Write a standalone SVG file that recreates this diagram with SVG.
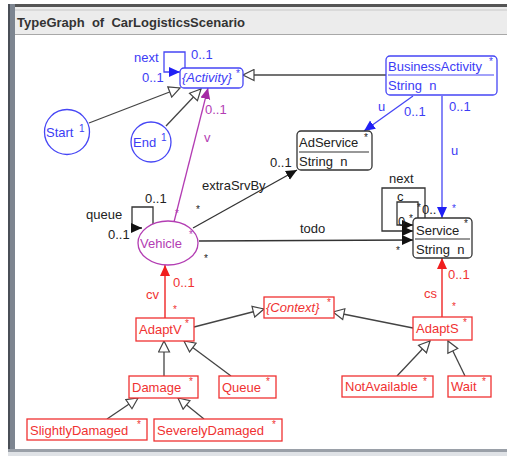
<svg xmlns="http://www.w3.org/2000/svg" width="507" height="456" viewBox="0 0 507 456">
  <style>
    text { font-family: "Liberation Sans", Arial, sans-serif; font-size: 13px; }
    .title { font-weight: bold; font-size: 13px; fill: #333; white-space: pre; }
    .blue { fill: #3c3cf5; }
    .red { fill: #f03232; }
    .pur { fill: #b33db3; }
    .blk { fill: #222; }
    .it { font-style: italic; }
    .sup { font-size: 10px; }
    .pre { white-space: pre; }
    .nb { fill: #fff; stroke: #4646f5; stroke-width: 1.3; }
    .nk { fill: #fff; stroke: #333; stroke-width: 1.3; }
    .nr { fill: #fff; stroke: #f03232; stroke-width: 1.3; }
    .np { fill: #fff; stroke: #b33db3; stroke-width: 1.3; }
    .gen { fill: none; stroke: #444; stroke-width: 1.3; marker-end: url(#inh); }
    .ek { fill: none; stroke: #333; stroke-width: 1.3; }
    .eb { fill: none; stroke: #4646f5; stroke-width: 1.3; }
    .ep { fill: none; stroke: #b33db3; stroke-width: 1.3; }
    .er { fill: none; stroke: #f03232; stroke-width: 1.5; }
  </style>
  <defs>
    <marker id="inh" markerWidth="13" markerHeight="13" refX="12" refY="6.5" orient="auto" markerUnits="userSpaceOnUse">
      <path d="M1,1 L12,6.5 L1,12 z" fill="#fff" stroke="#444" stroke-width="1.2"/>
    </marker>
    <marker id="ak" markerWidth="12" markerHeight="12" refX="11" refY="6" orient="auto" markerUnits="userSpaceOnUse">
      <path d="M0,1 L11,6 L0,11 z" fill="#111"/>
    </marker>
    <marker id="ab" markerWidth="12" markerHeight="12" refX="11" refY="6" orient="auto" markerUnits="userSpaceOnUse">
      <path d="M0,1 L11,6 L0,11 z" fill="#2020f5"/>
    </marker>
    <marker id="ap" markerWidth="12" markerHeight="12" refX="11" refY="6" orient="auto" markerUnits="userSpaceOnUse">
      <path d="M0,1 L11,6 L0,11 z" fill="#a52aa5"/>
    </marker>
    <marker id="ar" markerWidth="12" markerHeight="12" refX="11" refY="6" orient="auto" markerUnits="userSpaceOnUse">
      <path d="M0,1 L11,6 L0,11 z" fill="#f01e1e"/>
    </marker>
  </defs>

  <!-- window frame -->
  <rect x="0" y="0" width="507" height="456" fill="#fff"/>
  <rect x="8" y="4" width="499" height="3" fill="#555"/>
  <rect x="8" y="4" width="7" height="449" fill="#7d8590"/>
  <rect x="8" y="4" width="2" height="449" fill="#4a4f57"/>
  <rect x="15" y="7" width="492" height="27" fill="#ececec"/>
  <line x1="15" y1="10" x2="507" y2="10" stroke="#c8c8c8"/>
  <line x1="15" y1="34.5" x2="507" y2="34.5" stroke="#a8a8a8"/>
  <rect x="8" y="449" width="499" height="3" fill="#9aa0a8"/>
  <rect x="8" y="452" width="499" height="4" fill="#dfe2e6"/>
  <text class="title" x="17" y="27">TypeGraph  of  CarLogisticsScenario</text>

  <!-- connectors -->
  <g id="connectors">
    <!-- generalisations -->
    <line class="gen" x1="89" y1="123" x2="180" y2="88"/>
    <line class="gen" x1="166" y1="126" x2="201" y2="89"/>
    <line class="gen" x1="386" y1="75" x2="243" y2="75"/>
    <line class="gen" x1="194" y1="327" x2="264" y2="309"/>
    <line class="gen" x1="413" y1="328" x2="333" y2="312"/>
    <line class="gen" x1="164" y1="376" x2="164" y2="341"/>
    <line class="gen" x1="231" y1="376" x2="184" y2="341"/>
    <line class="gen" x1="107" y1="419" x2="138" y2="398"/>
    <line class="gen" x1="204" y1="419" x2="178" y2="398"/>
    <line class="gen" x1="397" y1="376" x2="430" y2="341"/>
    <line class="gen" x1="465" y1="376" x2="448" y2="341"/>

    <!-- Activity next -->
    <path class="eb" d="M185,68 V52 H164 V72 H180" marker-end="url(#ab)"/>
    <text class="blue" x="134" y="62">next</text>
    <text class="blue" x="191" y="59">0..1</text>
    <text class="blue" x="142" y="82">0..1</text>

    <!-- BusinessActivity u -> AdService -->
    <line class="eb" x1="413" y1="96" x2="364" y2="131" marker-end="url(#ab)"/>
    <text class="blue" x="378" y="111">u</text>
    <text class="blue" x="404" y="116">0..1</text>

    <!-- BusinessActivity u -> Service -->
    <line class="eb" x1="442" y1="96" x2="442" y2="218" marker-end="url(#ab)"/>
    <text class="blue" x="449" y="111">0..1</text>
    <text class="blue" x="451" y="155">u</text>
    <text class="blue sup" x="452" y="212">*</text>

    <!-- Vehicle v -> Activity -->
    <line class="ep" x1="174" y1="222" x2="208" y2="88" marker-end="url(#ap)"/>
    <text class="pur" x="205" y="114">0..1</text>
    <text class="pur" x="204" y="142">v</text>
    <text class="pur sup" x="175" y="217">*</text>

    <!-- Vehicle queue -->
    <path class="ek" d="M153,224 V207 H132 V228 H142" marker-end="url(#ak)"/>
    <text class="blk" x="86" y="219">queue</text>
    <text class="blk" x="145" y="203">0..1</text>
    <text class="blk" x="108" y="239">0..1</text>

    <!-- Vehicle extraSrvBy -> AdService -->
    <line class="ek" x1="193" y1="228" x2="297" y2="170" marker-end="url(#ak)"/>
    <text class="blk" x="202" y="190">extraSrvBy</text>
    <text class="blk" x="270" y="167">0..1</text>
    <text class="blk sup" x="196" y="213">*</text>

    <!-- Vehicle todo -> Service -->
    <line class="ek" x1="199" y1="241" x2="413" y2="240" marker-end="url(#ak)"/>
    <text class="blk" x="300" y="233">todo</text>
    <text class="blk sup" x="204" y="262">*</text>
    <text class="blk sup" x="396" y="254">*</text>

    <!-- Service self associations -->
    <path class="ek" d="M425,218 V188 H382 V231 H413" marker-end="url(#ak)"/>
    <path class="ek" d="M418,218 V202 H397 V225 H413" marker-end="url(#ak)"/>
    <text class="blk" x="389" y="183">next</text>
    <text class="blk" x="397" y="201">c</text>
    <text class="blk sup" x="417" y="211">*</text>
    <text class="blk" x="422" y="214">0..</text>
    <text class="blk" x="398" y="226">0</text>
    <text class="blk sup" x="409" y="222">*</text>

    <!-- AdaptV cv -> Vehicle -->
    <line class="er" x1="165" y1="318" x2="165" y2="265" marker-end="url(#ar)"/>
    <text class="red" x="146" y="299">cv</text>
    <text class="red" x="173" y="287">0..1</text>
    <text class="red sup" x="173" y="313">*</text>

    <!-- AdaptS cs -> Service -->
    <line class="er" x1="442" y1="317" x2="442" y2="258" marker-end="url(#ar)"/>
    <text class="red" x="424" y="298">cs</text>
    <text class="red" x="448" y="279">0..1</text>
    <text class="red sup" x="452" y="310">*</text>
  </g>

  <!-- nodes -->
  <g id="Activity">
    <rect class="nb" x="180" y="68" width="63" height="20" rx="4"/>
    <text class="blue it" x="182" y="82">{Activity}</text>
    <text class="blue sup" x="236" y="77">*</text>
  </g>
  <g id="BusinessActivity">
    <rect class="nb" x="386" y="56" width="111" height="39" rx="4"/>
    <line x1="388" y1="75" x2="494" y2="75" stroke="#4646f5" stroke-width="1.2"/>
    <text class="blue" x="388" y="71">BusinessActivity</text>
    <text class="blue sup" x="489" y="65">*</text>
    <text class="blue pre" x="388" y="90">String  n</text>
  </g>
  <g id="Start">
    <circle class="nb" cx="67" cy="132" r="22.5"/>
    <text class="blue" x="46" y="137">Start</text>
    <text class="blue sup" x="79" y="132">1</text>
  </g>
  <g id="End">
    <circle class="nb" cx="151" cy="142" r="20"/>
    <text class="blue" x="133" y="147">End</text>
    <text class="blue sup" x="161" y="141">1</text>
  </g>
  <g id="AdService">
    <rect class="nk" x="297" y="131" width="75" height="39" rx="4"/>
    <line x1="299" y1="152" x2="369" y2="152" stroke="#333" stroke-width="1.2"/>
    <text class="blk" x="299" y="147">AdService</text>
    <text class="blk sup" x="364" y="141">*</text>
    <text class="blk pre" x="299" y="166">String  n</text>
  </g>
  <g id="Service">
    <rect class="nk" x="413" y="218" width="59" height="40" rx="4"/>
    <line x1="415" y1="239" x2="470" y2="239" stroke="#333" stroke-width="1.2"/>
    <text class="blk" x="416" y="235">Service</text>
    <text class="blk sup" x="464" y="227">*</text>
    <text class="blk pre" x="416" y="254">String  n</text>
  </g>
  <g id="Vehicle">
    <ellipse class="np" cx="168" cy="243" rx="30" ry="22"/>
    <text class="pur" x="140" y="248">Vehicle</text>
    <text class="pur sup" x="189" y="238">*</text>
  </g>
  <g id="Context">
    <rect class="nr" x="264" y="297" width="70" height="21"/>
    <text class="red it" x="266" y="312">{Context}</text>
    <text class="red sup" x="327" y="306">*</text>
  </g>
  <g id="AdaptV">
    <rect class="nr" x="136" y="318" width="58" height="23"/>
    <text class="red" x="139" y="334">AdaptV</text>
    <text class="red sup" x="185" y="327">*</text>
  </g>
  <g id="AdaptS">
    <rect class="nr" x="413" y="317" width="59" height="23"/>
    <text class="red" x="416" y="333">AdaptS</text>
    <text class="red sup" x="463" y="326">*</text>
  </g>
  <g id="Damage">
    <rect class="nr" x="129" y="376" width="69" height="22"/>
    <text class="red" x="132" y="392">Damage</text>
    <text class="red sup" x="189" y="385">*</text>
  </g>
  <g id="Queue">
    <rect class="nr" x="219" y="376" width="57" height="22"/>
    <text class="red" x="222" y="392">Queue</text>
    <text class="red sup" x="266" y="385">*</text>
  </g>
  <g id="NotAvailable">
    <rect class="nr" x="342" y="376" width="91" height="21"/>
    <text class="red" x="345" y="391">NotAvailable</text>
    <text class="red sup" x="423" y="385">*</text>
  </g>
  <g id="Wait">
    <rect class="nr" x="448" y="376" width="43" height="21"/>
    <text class="red" x="451" y="391">Wait</text>
    <text class="red sup" x="482" y="385">*</text>
  </g>
  <g id="SlightlyDamaged">
    <rect class="nr" x="27" y="419" width="120" height="21"/>
    <text class="red" x="30" y="435">SlightlyDamaged</text>
    <text class="red sup" x="137" y="428">*</text>
  </g>
  <g id="SeverelyDamaged">
    <rect class="nr" x="154" y="419" width="128" height="22"/>
    <text class="red" x="157" y="435">SeverelyDamaged</text>
    <text class="red sup" x="272" y="428">*</text>
  </g>
</svg>
